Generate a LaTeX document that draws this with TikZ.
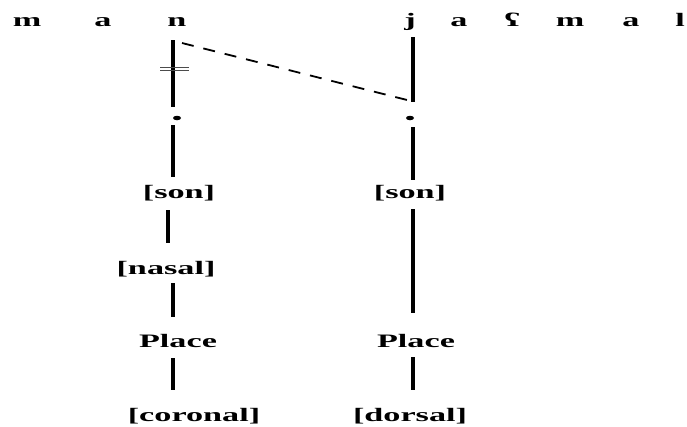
\documentclass[tikz,border=0pt]{standalone}
\usepackage{fontspec}
\usepackage{graphicx}
\setmainfont{Liberation Serif}
\newcommand{\widetxt}[1]{\scalebox{1.8}[1]{#1}}
\usetikzlibrary{shapes.geometric}
\tikzset{
  lab/.style={anchor=base, inner sep=0pt, font=\fontsize{19}{21}\selectfont\bfseries},
  assoc/.style={line width=3.4pt},
  delink/.style={line width=0.9pt, draw=black!70},
  spread/.style={line width=1.8pt, dash pattern=on 12pt off 10pt},
  dotnode/.style={fill=black, ellipse, inner sep=0pt, minimum width=8pt, minimum height=4.5pt}
}
\begin{document}
\begin{tikzpicture}[x=1pt,y=-1pt]
\useasboundingbox (0,0) rectangle (687,426);
% segments
\node[lab] (m1) at (27,26) {\widetxt{m}};
\node[lab] (a1) at (103,26) {\widetxt{a}};
\node[lab] (n1) at (177,26) {\widetxt{n}};
\node[lab] (j1) at (410,26) {\widetxt{j}};
\node[lab] (a2) at (459,26) {\widetxt{a}};
\node[lab] (ph) at (512,26) {\widetxt{ʕ}};
\node[lab] (m2) at (570,26) {\widetxt{m}};
\node[lab] (a3) at (631,26) {\widetxt{a}};
\node[lab] (l1) at (680,26) {\widetxt{l}};
% root dots
\node[dotnode] (rl) at (177,118) {};
\node[dotnode] (rr) at (410,118) {};
% left features
\node[lab] (sonl) at (179,198) {\widetxt{[son]}};
\node[lab] (nas) at (166,274) {\widetxt{[nasal]}};
\node[lab] (pll) at (178,347) {\widetxt{Place}};
\node[lab] (cor) at (194,421) {\widetxt{[coronal]}};
% right features
\node[lab] (sonr) at (410,198) {\widetxt{[son]}};
\node[lab] (plr) at (416,347) {\widetxt{Place}};
\node[lab] (dor) at (410,421) {\widetxt{[dorsal]}};
% connector ends
\coordinate (l1t) at (173,40);  \coordinate (l1b) at (173,107);
\coordinate (l2t) at (173,125); \coordinate (l2b) at (173,177);
\coordinate (l3t) at (168,210); \coordinate (l3b) at (168,243);
\coordinate (l4t) at (173,283); \coordinate (l4b) at (173,317);
\coordinate (l5t) at (173,358); \coordinate (l5b) at (173,390);
\coordinate (r1t) at (413,37);  \coordinate (r1b) at (413,102);
\coordinate (r2t) at (413,127); \coordinate (r2b) at (413,180);
\coordinate (r3t) at (413,209); \coordinate (r3b) at (413,313);
\coordinate (r4t) at (413,357); \coordinate (r4b) at (413,390);
\coordinate (dst) at (182,43);  \coordinate (den) at (411,101);
\coordinate (x1a) at (160,67.5); \coordinate (x1b) at (189,67.5);
\coordinate (x2a) at (160,70.5); \coordinate (x2b) at (189,70.5);
% left tier
\draw[assoc] (l1t) -- (l1b);
\draw[delink] (x1a) -- (x1b);
\draw[delink] (x2a) -- (x2b);
\draw[assoc] (l2t) -- (l2b);
\draw[assoc] (l3t) -- (l3b);
\draw[assoc] (l4t) -- (l4b);
\draw[assoc] (l5t) -- (l5b);
% right tier
\draw[assoc] (r1t) -- (r1b);
\draw[assoc] (r2t) -- (r2b);
\draw[assoc] (r3t) -- (r3b);
\draw[assoc] (r4t) -- (r4b);
% spreading
\draw[spread] (dst) -- (den);
\end{tikzpicture}
\end{document}
